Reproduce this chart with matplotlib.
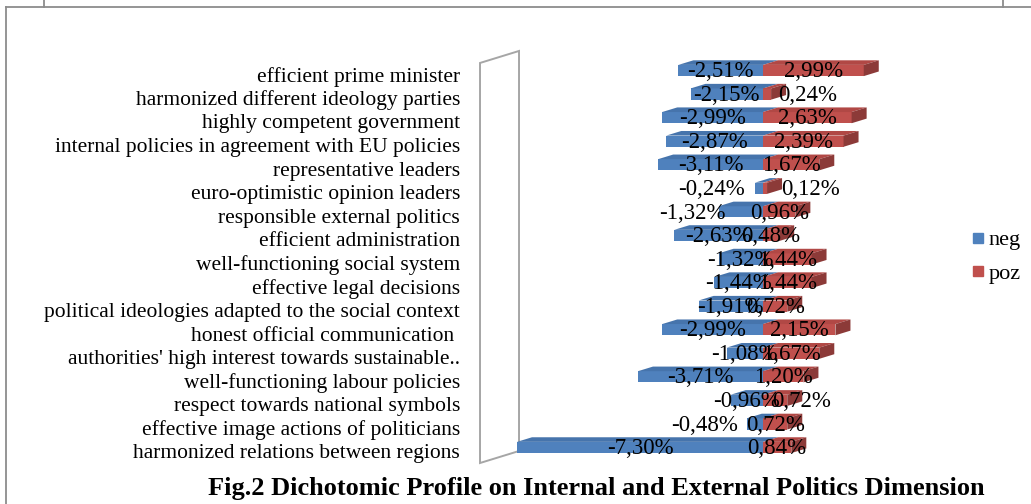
import matplotlib
matplotlib.use("Agg")
import matplotlib.pyplot as plt
from matplotlib.patches import Polygon
from matplotlib.lines import Line2D

# ---------------- data ----------------
categories = [
    "efficient prime minister",
    "harmonized different ideology parties",
    "highly competent government",
    "internal policies in agreement with EU policies",
    "representative leaders",
    "euro-optimistic opinion leaders",
    "responsible external politics",
    "efficient administration",
    "well-functioning social system",
    "effective legal decisions",
    "political ideologies adapted to the social context",
    "honest official communication ",
    "authorities' high interest towards sustainable..",
    "well-functioning labour policies",
    "respect towards national symbols",
    "effective image actions of politicians",
    "harmonized relations between regions",
]
neg = [-2.51, -2.15, -2.99, -2.87, -3.11, -0.24, -1.32, -2.63, -1.32,
       -1.44, -1.91, -2.99, -1.08, -3.71, -0.96, -0.48, -7.30]
poz = [2.99, 0.24, 2.63, 2.39, 1.67, 0.12, 0.96, 0.48, 1.44,
       1.44, 0.72, 2.15, 1.67, 1.20, 0.72, 0.72, 0.84]
series_names = ["neg", "poz"]
title = "Fig.2 Dichotomic Profile on Internal and External Politics Dimension"

# manual label nudges (value units) where labels were moved off the bars
label_nudge = {(1, 1): 1.19, (5, 0): -1.40, (5, 1): 1.34, (6, 0): -1.45,
               (14, 1): 0.77, (15, 0): -1.48}

# ---------------- style ----------------
W, H = 1031, 504
SERIF = ["Liberation Serif", "DejaVu Serif"]
BLUE, BLUE_TOP = "#4F81BD", "#4674AC"
RED, RED_TOP, RED_SIDE = "#C0504D", "#B14845", "#8C3A38"
GRID = "#8C8C8C"

ZERO_PX, UNIT_PX = 763.0, 33.7
ROW0_PX, ROW_PX = 70.5, 23.56

fig = plt.figure(figsize=(W / 100, H / 100), dpi=100)
ax = fig.add_axes([0, 0, 1, 1])
ax.set_xlim((0 - ZERO_PX) / UNIT_PX, (W - ZERO_PX) / UNIT_PX)
ax.set_ylim((H - ROW0_PX) / ROW_PX, (0 - ROW0_PX) / ROW_PX)
ax.axis("off")

# 3D geometry (value units / row units)
half_h = 5.6 / ROW_PX
ddx, ddy = 15.0 / UNIT_PX, -4.6 / ROW_PX
axis_min = -7.24
wall_dx, wall_dy = 39.0 / UNIT_PX, -12.0 / ROW_PX
wall_top, wall_bot = -0.32, 16.66

# side wall
front_x = axis_min - wall_dx
wall = Polygon([(front_x, wall_bot), (front_x, wall_top),
                (axis_min, wall_top + wall_dy), (axis_min, wall_bot + wall_dy)],
               closed=True, facecolor="white", edgecolor="#A6A6A6", lw=1.4, zorder=1)
ax.add_patch(wall)

n = len(categories)
rows = list(range(n))

# front faces
ax.barh(rows, neg, height=2 * half_h, color=BLUE, zorder=3, linewidth=0)
ax.barh(rows, poz, height=2 * half_h, color=RED, zorder=3, linewidth=0)

for i in rows:
    top = i - half_h
    bot = i + half_h
    for x0, x1, col in ((neg[i], 0.0, BLUE_TOP), (0.0, poz[i], RED_TOP)):
        ax.add_patch(Polygon([(x0, top), (x1, top), (x1 + ddx, top + ddy), (x0 + ddx, top + ddy)],
                             closed=True, facecolor=col, edgecolor="none", zorder=3))
    x1 = poz[i]
    ax.add_patch(Polygon([(x1, top), (x1, bot), (x1 + ddx, bot + ddy), (x1 + ddx, top + ddy)],
                         closed=True, facecolor=RED_SIDE, edgecolor="none", zorder=3))

# data labels
def fmt(v):
    return f"{v:.2f}%".replace(".", ",")

for i in rows:
    for s, v in enumerate((neg[i], poz[i])):
        xc = v / 2 + label_nudge.get((i, s), 0.0)
        ax.text(xc, i + 0.05, fmt(v), ha="center", va="center", fontsize=16.5,
                family=SERIF, color="black", zorder=5)

# category labels
label_x = (460 - ZERO_PX) / UNIT_PX
for i, c in enumerate(categories):
    ax.text(label_x, i + 0.27, c, ha="right", va="center", fontsize=15.5,
            family=SERIF, color="black", zorder=5)

# legend
handles = [Line2D([], [], marker="s", linestyle="none", markersize=7.2,
                  markerfacecolor=BLUE, markeredgecolor=BLUE),
           Line2D([], [], marker="s", linestyle="none", markersize=7.2,
                  markerfacecolor=RED, markeredgecolor=RED)]
fig.legend(handles, series_names, loc="center left",
           bbox_to_anchor=(960 / W, 1 - 257 / H), frameon=False,
           prop={"family": SERIF, "size": 16}, handlelength=0.6,
           handletextpad=0.2, labelspacing=0.6, borderpad=0)

# title
fig.text(596 / W, 1 - 489 / H, title, ha="center", va="center", fontsize=19,
         fontweight="bold", family=SERIF)

# page frame lines
def fline(x0, y0, x1, y1):
    fig.add_artist(Line2D([x0 / W, x1 / W], [1 - y0 / H, 1 - y1 / H],
                          transform=fig.transFigure, color=GRID, lw=1.3))

fline(6, 6.5, W, 6.5)
fline(6, 6.5, 6, H)
fline(44, 0, 44, 6.5)
fline(1003, 0, 1003, 6.5)

fig.savefig("out.png", dpi=100)
